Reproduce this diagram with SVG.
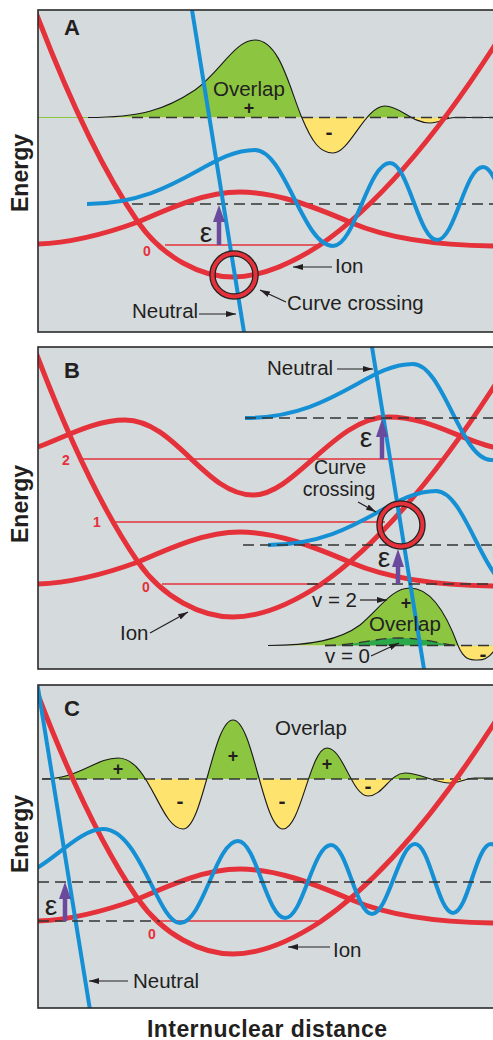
<svg xmlns="http://www.w3.org/2000/svg" width="493" height="1040" viewBox="0 0 493 1040">
<defs>
<style>
.bg{fill:#d5dadd}
.frame{fill:none;stroke:#2a2a2a;stroke-width:1.6}
.red{fill:none;stroke:#e4313a;stroke-width:5}
.blue{fill:none;stroke:#1590d4;stroke-width:4}
.lvl{stroke:#e4313a;stroke-width:1.3}
.dash{fill:none;stroke:#333;stroke-width:1.3;stroke-dasharray:11 6}
.ov{fill:none;stroke:#1a1a1a;stroke-width:1.1}
.pos{fill:#8cc540}
.neg{fill:#fee46f}
.v0{fill:#2aa84a}
.eps{fill:#6a4a9c}
.epsl{stroke:#6a4a9c;stroke-width:4.5}
.ring1{fill:none;stroke:#222;stroke-width:6.5}
.ring2{fill:none;stroke:#e4313a;stroke-width:4}
.lbl{font-family:"Liberation Sans",Arial,sans-serif;font-size:20.5px;fill:#231f20}
.cc{font-family:"Liberation Sans",Arial,sans-serif;font-size:19.5px;fill:#231f20;text-anchor:middle}
.pl{font-family:"Liberation Sans",Arial,sans-serif;font-size:22px;font-weight:bold;fill:#231f20}
.ax{font-family:"Liberation Sans",Arial,sans-serif;font-size:23px;font-weight:bold;fill:#231f20;text-anchor:middle}
.lvn{font-family:"Liberation Sans",Arial,sans-serif;font-size:14px;font-weight:bold;fill:#e4313a;text-anchor:middle}
.plus{font-family:"Liberation Sans",Arial,sans-serif;font-size:18px;font-weight:bold;fill:#231f20;text-anchor:middle}
.minus{font-family:"Liberation Sans",Arial,sans-serif;font-size:21px;font-weight:bold;fill:#231f20;text-anchor:middle}
.ep{font-family:"Liberation Sans",Arial,sans-serif;font-size:28px;fill:#231f20;text-anchor:middle}
.ptr{stroke:#231f20;stroke-width:1.2;marker-end:url(#ah)}
</style>
<marker id="ah" viewBox="0 0 10 6" refX="10" refY="3" markerWidth="10" markerHeight="6" markerUnits="userSpaceOnUse" orient="auto"><path d="M0,0 L10,3 L0,6 Z" fill="#231f20"/></marker>
<clipPath id="clipA"><rect x="38" y="10" width="470" height="322"/></clipPath>
<clipPath id="clipB"><rect x="38" y="347" width="470" height="322"/></clipPath>
<clipPath id="clipC"><rect x="38" y="685" width="470" height="323"/></clipPath>
<clipPath id="abA"><rect x="0" y="0" width="520" height="117.5"/></clipPath>
<clipPath id="beA"><rect x="0" y="117.5" width="520" height="220"/></clipPath>
<clipPath id="abB"><rect x="0" y="400" width="520" height="245.5"/></clipPath>
<clipPath id="beB"><rect x="0" y="645.5" width="520" height="60"/></clipPath>
<clipPath id="abC"><rect x="0" y="600" width="520" height="179"/></clipPath>
<clipPath id="beC"><rect x="0" y="779" width="520" height="200"/></clipPath>
<path id="ion" d="M31,0 L38,18 C71.3,104.7 104.7,173.7 138,222 C163,258 201.3,277 233,277 C262,277 291,263.9 320,245 C377.7,205.2 435.3,137.4 493,48 L515,14"/>
<path id="bump" d="M20,245 L38,244 C70,243 105,234 138,222 C170,208 205,192 240,192 C275,192 310,205 352,223 C380,235 420,245 493,246 L515,246"/>
<path id="wave" d="M87,204 C175,204 208,150 255,150 C285,150 303,246 333,246 C355,246 368,163 390,163 C408,163 419,240 437,240 C455,240 465,167 483,167 C499,167 508,236 524,236"/>
<path id="neutral" d="M190.4,0 L246.1,345"/>
</defs>

<g id="panelA">
<rect class="bg" x="38" y="10" width="470" height="322"/>
<g clip-path="url(#clipA)">
<line x1="38" y1="117.5" x2="88" y2="117.5" stroke="#8cc540" stroke-width="1.2"/>
<path class="pos" clip-path="url(#abA)" d="M88,117.5 C140,117.5 165,110 195,90 C220,72 235,40 255,40 C280,40 290,90 302,118 C312,142 320,153 333,153 C350,153 365,106 385,106 C400,106 412,123 430,123 C440,123 445,117.5 455,117.5 L493,117.5 Z"/>
<path class="neg" clip-path="url(#beA)" d="M88,117.5 C140,117.5 165,110 195,90 C220,72 235,40 255,40 C280,40 290,90 302,118 C312,142 320,153 333,153 C350,153 365,106 385,106 C400,106 412,123 430,123 C440,123 445,117.5 455,117.5 L493,117.5 Z"/>
<path class="ov" d="M88,117.5 C140,117.5 165,110 195,90 C220,72 235,40 255,40 C280,40 290,90 302,118 C312,142 320,153 333,153 C350,153 365,106 385,106 C400,106 412,123 430,123 C440,123 445,117.5 455,117.5 L493,117.5"/>
<line class="dash" x1="132" y1="117.5" x2="493" y2="117.5"/>
<line class="dash" x1="132" y1="204" x2="493" y2="204"/>
<line class="lvl" x1="165" y1="245" x2="318" y2="245"/>
<use href="#bump" class="red"/>
<use href="#ion" class="red"/>
<use href="#wave" class="blue"/>
<use href="#neutral" class="blue"/>
</g>
<line class="epsl" x1="219" y1="245" x2="219" y2="220"/>
<path class="eps" d="M213,222 L225,222 L219,205 Z"/>
<circle class="ring1" cx="234" cy="275" r="21.5"/>
<circle class="ring2" cx="234" cy="275" r="21.5"/>
<text class="pl" x="64" y="35">A</text>
<text class="lbl" x="213" y="96">Overlap</text>
<text class="plus" x="249" y="114">+</text>
<text class="minus" x="329" y="139">-</text>
<text class="ep" x="206" y="242">ε</text>
<text class="lvn" x="147" y="256">0</text>
<line class="ptr" x1="332" y1="267" x2="293" y2="267"/>
<text class="lbl" x="335" y="273">Ion</text>
<line class="ptr" x1="286" y1="302" x2="260" y2="290"/>
<text class="lbl" x="287" y="310">Curve crossing</text>
<line class="ptr" x1="199" y1="314" x2="236" y2="314"/>
<text class="lbl" x="132" y="318">Neutral</text>
<rect class="frame" x="38" y="10" width="470" height="322"/>
</g>

<g id="panelB">
<rect class="bg" x="38" y="347" width="470" height="322"/>
<g clip-path="url(#clipB)">
<path class="pos" clip-path="url(#abB)" d="M268,645.5 C310,645.5 340,640 360,625 C380,608 392,588 410,588 C430,588 445,610 458,645.5 C464,660 470,660 478,660 C485,660 490,656 493,652 L500,648 L500,645.5 Z"/>
<path class="neg" clip-path="url(#beB)" d="M268,645.5 C310,645.5 340,640 360,625 C380,608 392,588 410,588 C430,588 445,610 458,645.5 C464,660 470,660 478,660 C485,660 490,656 493,652 L500,648 L500,645.5 Z"/>
<path class="v0" d="M325,645.5 C355,645.5 375,638 400,638 C425,638 445,645.5 460,645.5 Z"/>
<path class="ov" d="M268,645.5 C310,645.5 340,640 360,625 C380,608 392,588 410,588 C430,588 445,610 458,645.5 C464,660 470,660 478,660 C485,660 490,656 493,652 L500,648"/>
<line class="dash" x1="325" y1="645.5" x2="493" y2="645.5"/>
<path class="dash" d="M325,645.5 C355,645.5 375,638 400,638 C425,638 445,645.5 460,645.5"/>
<line class="lvl" x1="80" y1="459" x2="443" y2="459"/>
<line class="lvl" x1="112" y1="522" x2="385" y2="522"/>
<line class="lvl" x1="162" y1="584" x2="320" y2="584"/>
<use href="#bump" class="red" transform="translate(0,340)"/>
<path class="red" d="M38,447 C65,437 95,420 125,420 C175,420 205,495 253,495 C295,495 335,417 388,417 C430,417 460,440 493,447 L515,452"/>
<use href="#ion" class="red" transform="translate(0,340)"/>
<use href="#wave" class="blue" transform="translate(158,214)"/>
<use href="#wave" class="blue" transform="translate(181,341)"/>
<use href="#neutral" class="blue" transform="translate(180,337)"/>
<line class="dash" x1="245" y1="418" x2="493" y2="418"/>
<line class="dash" x1="243" y1="545" x2="493" y2="545"/>
<line class="dash" x1="307" y1="584" x2="493" y2="584"/>
</g>
<line class="epsl" x1="382" y1="459" x2="382" y2="435"/>
<path class="eps" d="M376,437 L388,437 L382,419 Z"/>
<line class="epsl" x1="398" y1="584" x2="398" y2="565"/>
<path class="eps" d="M392,567 L404,567 L398,549 Z"/>
<circle class="ring1" cx="401" cy="525" r="21.5"/>
<circle class="ring2" cx="401" cy="525" r="21.5"/>
<text class="pl" x="64" y="378">B</text>
<line class="ptr" x1="337" y1="369" x2="373" y2="369"/>
<text class="lbl" x="267" y="375">Neutral</text>
<text class="ep" x="366" y="447">ε</text>
<text class="ep" x="384" y="567">ε</text>
<text class="lvn" x="66" y="465">2</text>
<text class="lvn" x="97" y="527">1</text>
<text class="lvn" x="146" y="592">0</text>
<text class="cc" x="340" y="474">Curve</text>
<text class="cc" x="339" y="496">crossing</text>
<line class="ptr" x1="358" y1="502" x2="376" y2="512"/>
<line class="ptr" x1="150" y1="633" x2="188" y2="612"/>
<text class="lbl" x="120" y="640">Ion</text>
<line class="ptr" x1="360" y1="600" x2="387" y2="600"/>
<text class="lbl" x="312" y="607">v = 2</text>
<line class="ptr" x1="371" y1="656" x2="399" y2="643"/>
<text class="lbl" x="325" y="663">v = 0</text>
<text class="lbl" x="369" y="631">Overlap</text>
<text class="plus" x="406" y="609">+</text>
<text class="minus" x="483" y="661">-</text>
<rect class="frame" x="38" y="347" width="470" height="322"/>
</g>

<g id="panelC">
<rect class="bg" x="38" y="685" width="470" height="323"/>
<g clip-path="url(#clipC)">
<path class="pos" clip-path="url(#abC)" d="M42,779 C80,779 95,758 118,758 C150,758 160,829 183,829 C203,829 213,720 233,720 C253,720 263,829 283,829 C301,829 310,748 327,748 C343,748 352,796 368,796 C383,796 390,773 405,773 C420,773 435,783 450,783 C462,783 465,778 475,778 L493,778 L493,779 Z"/>
<path class="neg" clip-path="url(#beC)" d="M42,779 C80,779 95,758 118,758 C150,758 160,829 183,829 C203,829 213,720 233,720 C253,720 263,829 283,829 C301,829 310,748 327,748 C343,748 352,796 368,796 C383,796 390,773 405,773 C420,773 435,783 450,783 C462,783 465,778 475,778 L493,778 L493,779 Z"/>
<path class="ov" d="M42,779 C80,779 95,758 118,758 C150,758 160,829 183,829 C203,829 213,720 233,720 C253,720 263,829 283,829 C301,829 310,748 327,748 C343,748 352,796 368,796 C383,796 390,773 405,773 C420,773 435,783 450,783 C462,783 465,778 475,778 L493,778"/>
<line class="dash" x1="42" y1="779" x2="493" y2="779"/>
<line class="lvl" x1="160" y1="921" x2="318" y2="921"/>
<use href="#bump" class="red" transform="translate(0,677)"/>
<use href="#ion" class="red" transform="translate(0,677)"/>
<path class="blue" d="M30,872 C55,860 80,829 103,829 C140,829 158,923 180,923 C203,923 216,841 238,841 C256,841 267,918 285,918 C303,918 313,845 331,845 C347,845 356,914 372,914 C388,914 399,844 415,844 C430,844 438,913 453,913 C468,913 476,844 491,844 C506,844 513,908 528,908"/>
<use href="#neutral" class="blue" transform="translate(-154,678)"/>
<line class="dash" x1="38" y1="882" x2="493" y2="882"/>
<line class="dash" x1="38" y1="921" x2="160" y2="921"/>
</g>
<line class="epsl" x1="65" y1="921" x2="65" y2="897"/>
<path class="eps" d="M59,899 L71,899 L65,882 Z"/>
<text class="pl" x="64" y="716">C</text>
<text class="lbl" x="275" y="735">Overlap</text>
<text class="plus" x="118" y="775">+</text>
<text class="plus" x="233" y="762">+</text>
<text class="plus" x="327" y="770">+</text>
<text class="minus" x="180" y="808">-</text>
<text class="minus" x="282" y="808">-</text>
<text class="minus" x="368" y="793">-</text>
<text class="ep" x="51" y="915">ε</text>
<text class="lvn" x="152" y="939">0</text>
<line class="ptr" x1="330" y1="947" x2="288" y2="947"/>
<text class="lbl" x="333" y="957">Ion</text>
<line class="ptr" x1="128" y1="981" x2="89" y2="981"/>
<text class="lbl" x="133" y="988">Neutral</text>
<rect class="frame" x="38" y="685" width="470" height="323"/>
</g>

<g id="axes">
<text class="ax" transform="translate(28,173) rotate(-90)">Energy</text>
<text class="ax" transform="translate(28,504) rotate(-90)">Energy</text>
<text class="ax" transform="translate(28,834) rotate(-90)">Energy</text>
<text class="ax" x="267" y="1037" textLength="240">Internuclear distance</text>
</g>
</svg>
